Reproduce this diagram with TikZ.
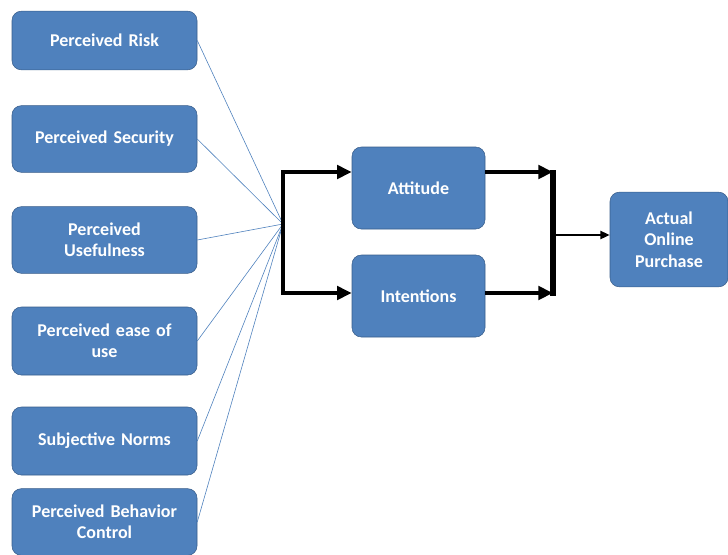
\documentclass[tikz,border=0pt]{standalone}
\usepackage{fontspec}
\setmainfont[WordSpace=0.55]{Carlito}
\usetikzlibrary{arrows.meta}

\definecolor{boxblue}{HTML}{4F81BD}
\definecolor{boxline}{HTML}{385D8A}

\begin{document}
\begin{tikzpicture}[x=0.75pt,y=-0.75pt,
    factor/.style={draw=boxline,fill=boxblue,rounded corners=7pt,
      text=white,font=\fontsize{13.5}{16}\selectfont\bfseries,
      align=center,minimum width=138.75pt,text width=130pt,inner xsep=2pt},
    midbox/.style={factor,minimum width=99.75pt,text width=90pt,minimum height=61.5pt},
    thin link/.style={boxblue,line width=0.45pt},
    flow/.style={line width=2.8pt,-{Triangle[length=11pt,width=10pt]}}]

  \useasboundingbox (0,0) rectangle (728,554);

  % left column of factors
  \node[factor,minimum height=44pt] (risk) at (104.5,40.5) {Perceived Risk};
  \node[factor,minimum height=50pt] (security) at (104.5,139) {Perceived Security};
  \node[factor,minimum height=50pt] (useful) at (104.5,240) {Perceived\\Usefulness};
  \node[factor,minimum height=51pt] (ease) at (104.5,341) {Perceived ease of\\use};
  \node[factor,minimum height=51pt] (norms) at (104.5,441) {Subjective Norms};
  \node[factor,minimum height=50pt] (control) at (104.5,522) {Perceived Behavior\\Control};

  % middle and right boxes
  \node[midbox] (attitude) at (418.5,188) {Attitude};
  \node[midbox] (intent) at (418.5,296) {Intentions};
  \node[factor,minimum width=88.5pt,text width=80pt,minimum height=71pt]
    (purchase) at (669,239.5) {Actual\\Online\\Purchase};

  \coordinate (hub) at (283,224);
  \coordinate (join) at (553,235);

  \foreach \f in {risk,security,useful,ease,norms,control} {
    \draw[thin link] (\f.east) -- (hub);
  }

  \draw[flow] (hub) -- (283,172) -- (attitude.west |- 0,172);
  \draw[flow] (hub) -- (283,293) -- (intent.west |- 0,293);

  \draw[flow] (attitude.east |- 0,172) -- (553,172);
  \draw[flow] (intent.east |- 0,293) -- (553,293);
  \draw[line width=4.5pt] (553,170) -- (553,296);

  \draw[line width=1.6pt,-{Triangle[length=7pt,width=6pt]}] (join) -- (join -| purchase.west);

\end{tikzpicture}
\end{document}
